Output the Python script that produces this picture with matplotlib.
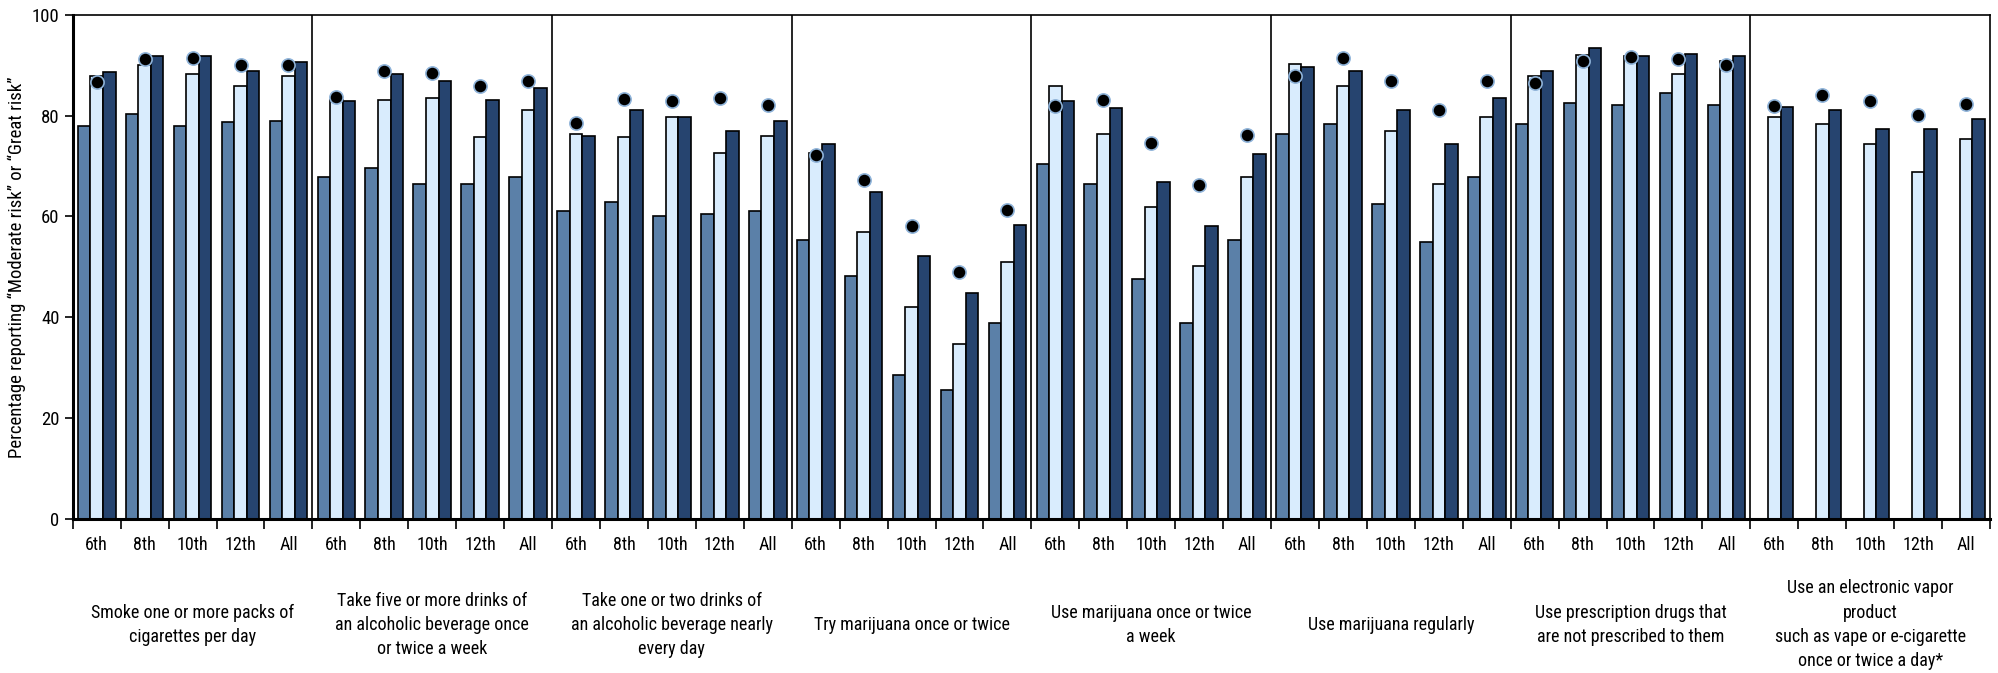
import matplotlib
matplotlib.use("Agg")
import matplotlib.pyplot as plt
from matplotlib import font_manager
import numpy as np

names = {f.name for f in font_manager.fontManager.ttflist}
narrow = [n for n in ["Liberation Sans Narrow", "DejaVu Sans Condensed", "Roboto Condensed",
                      "Open Sans Condensed"] if n in names]
plt.rcParams['font.family'] = narrow + ['DejaVu Sans']
fs = 13 if narrow else 10.5
fs_cat = 13 if narrow else 10.5

grades = ["6th", "8th", "10th", "12th", "All"]

behaviors = [
    "Smoke one or more packs of\ncigarettes per day",
    "Take five or more drinks of\nan alcoholic beverage once\nor twice a week",
    "Take one or two drinks of\nan alcoholic beverage nearly\nevery day",
    "Try marijuana once or twice",
    "Use marijuana once or twice\na week",
    "Use marijuana regularly",
    "Use prescription drugs that\nare not prescribed to them",
    "Use an electronic vapor\nproduct\nsuch as vape or e-cigarette\nonce or twice a day*",
]

# first series (medium blue), nan = not asked
series_a = [
    [78.0, 80.4, 78.0, 78.7, 79.0],
    [67.9, 69.5, 66.5, 66.5, 67.9],
    [61.1, 62.8, 60.0, 60.4, 61.1],
    [55.4, 48.2, 28.5, 25.5, 38.8],
    [70.3, 66.5, 47.6, 38.8, 55.4],
    [76.3, 78.4, 62.4, 55.0, 67.9],
    [78.4, 82.5, 82.1, 84.5, 82.1],
    [np.nan, np.nan, np.nan, np.nan, np.nan],
]
# second series (light blue)
series_b = [
    [87.9, 90.0, 88.2, 85.8, 87.9],
    [83.1, 83.1, 83.4, 75.7, 81.1],
    [76.3, 75.7, 79.7, 72.6, 76.0],
    [72.6, 57.0, 42.1, 34.7, 50.9],
    [85.8, 76.3, 61.8, 50.2, 67.9],
    [90.3, 85.8, 77.0, 66.5, 79.7],
    [87.9, 92.0, 91.9, 88.2, 90.8],
    [79.7, 78.4, 74.3, 68.8, 75.3],
]
# third series (dark navy)
series_c = [
    [88.6, 91.9, 91.9, 88.9, 90.6],
    [82.8, 88.2, 86.9, 83.1, 85.5],
    [76.0, 81.1, 79.7, 77.0, 79.0],
    [74.3, 64.8, 52.2, 44.8, 58.3],
    [82.8, 81.4, 66.9, 58.0, 72.3],
    [89.6, 88.9, 81.1, 74.3, 83.5],
    [88.9, 93.3, 91.9, 92.3, 91.9],
    [81.7, 81.1, 77.4, 77.4, 79.4],
]
# comparison dots
dots = [
    [86.6, 91.3, 91.4, 90.0, 90.0],
    [83.7, 88.8, 88.4, 85.8, 86.8],
    [78.5, 83.3, 82.9, 83.5, 82.1],
    [72.1, 67.3, 58.0, 48.9, 61.2],
    [81.9, 83.1, 74.5, 66.2, 76.2],
    [87.8, 91.4, 86.8, 81.1, 86.8],
    [86.5, 90.8, 91.6, 91.2, 90.1],
    [81.8, 84.0, 82.9, 80.2, 82.2],
]

n_grp = len(behaviors)
n_sub = len(grades)
centers = np.arange(n_grp * n_sub) + 0.5
w = 0.262

a = np.array(series_a).ravel()
b = np.array(series_b).ravel()
c = np.array(series_c).ravel()
d = np.array(dots).ravel()

fig = plt.figure(figsize=(19.99, 6.73), dpi=100)
ax = fig.add_axes([0.0364, 0.2288, 0.9591, 0.7494])

ax.bar(centers - w, a, w, color="#5b80a8", edgecolor="black", linewidth=1.2, zorder=2)
ax.bar(centers, b, w, color="#d9ecfd", edgecolor="black", linewidth=1.2, zorder=2)
ax.bar(centers + w, c, w, color="#26446f", edgecolor="black", linewidth=1.2, zorder=2)
ax.plot(centers, d, "o", color="black", markersize=9.5, markeredgecolor="#8fb3d9",
        markeredgewidth=1.2, zorder=4, linestyle="none")

for g in range(1, n_grp):
    ax.axvline(g * n_sub, color="black", linewidth=1.2, zorder=3)

ax.set_xlim(0, n_grp * n_sub)
ax.set_ylim(0, 100)
ax.set_yticks(range(0, 101, 20))
ax.set_xticks(centers)
ax.set_xticklabels(grades * n_grp, fontsize=fs)
ax.set_xticks(np.arange(n_grp * n_sub + 1), minor=True)
ax.tick_params(axis="x", which="major", length=0, pad=12)
ax.tick_params(axis="x", which="minor", length=7, width=1.2, direction="out")
ax.tick_params(axis="y", labelsize=13.5, length=6, width=1.2, direction="out")

for side in ["left", "bottom"]:
    ax.spines[side].set_linewidth(2.2)
for side in ["top", "right"]:
    ax.spines[side].set_linewidth(1.2)

ax.set_ylabel("Percentage reporting \u201cModerate risk\u201d or \u201cGreat risk\u201d", fontsize=13.5)

for g, name in enumerate(behaviors):
    ax.text(g * n_sub + n_sub / 2, -21, name, ha="center", va="center", fontsize=fs_cat,
            linespacing=1.45, transform=ax.transData, clip_on=False)

fig.savefig("out.png", dpi=100)
